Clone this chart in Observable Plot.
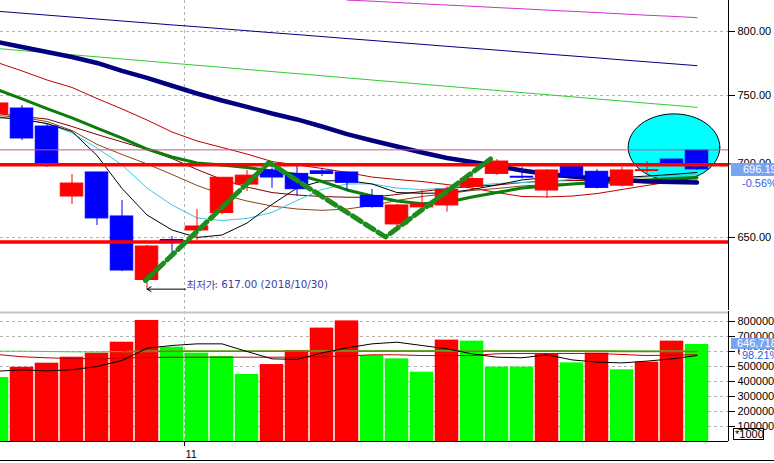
<!DOCTYPE html>
<html><head><meta charset="utf-8">
<script src="https://cdn.jsdelivr.net/npm/d3@7"></script>
<script src="https://cdn.jsdelivr.net/npm/@observablehq/plot@0.6"></script>
<style>
body{margin:0;background:#fff;font-family:"Liberation Sans",Arial,sans-serif;}
#wrap{position:relative;width:774px;height:463px;overflow:hidden;background:#fff;}
#price,#vol{position:absolute;left:0;}
#price{top:0;}
#vol{top:311px;}
.abs{position:absolute;white-space:nowrap;line-height:1;}
</style></head><body>
<div id="wrap">
<div id="price"></div>
<div id="vol"></div>
<div class="abs" style="left:731px;top:163px;width:43px;height:13px;background:#78a4f4;color:#fff;font-size:11px;padding-left:12px;box-sizing:border-box;line-height:13px;overflow:hidden;">696.19</div>
<div class="abs" style="left:742px;top:178px;color:#2f5fd8;font-size:11px;">-0.56%</div>
<div class="abs" style="left:731px;top:338px;width:43px;height:11px;background:#78a4f4;color:#fff;font-size:11px;padding-left:6px;box-sizing:border-box;line-height:11px;overflow:hidden;">646,718</div>
<div class="abs" style="left:740px;top:350px;width:34px;height:11px;background:#fff;color:#2f5fd8;font-size:11px;line-height:11px;padding-left:2px;overflow:hidden;">98.21%</div>
<div class="abs" style="left:733px;top:428px;width:28px;height:10px;border:1px solid #000;font-size:11px;line-height:10px;padding-left:1px;">*1000</div>
<div class="abs" style="left:0;top:460px;width:774px;height:1px;background:#000;"></div>
</div>
<script>
// ---- data (slot 0 = partially visible candle at the left edge) ----
const open  = [736.0,740.2,726.9,677.4,694.0,663.9,622.7,648.3,654.6,666.2,685.6,695.4,693.0,694.8,694.0,677.8,658.6,670.0,671.3,684.0,693.0,691.0,681.5,697.8,694.5,684.8,695.0,703.1,709.6];
const high  = [745.0,742.5,728.8,692.6,694.0,674.7,644.8,650.6,668.6,690.3,695.4,696.8,698.2,696.5,694.5,682.2,672.0,681.5,684.0,691.8,703.1,697.6,696.0,698.9,696.0,697.6,701.7,703.5,710.0];
const low   = [735.0,716.7,697.5,672.0,657.9,628.0,617.0,638.9,648.0,665.0,680.8,683.0,677.4,691.2,681.5,669.5,655.7,669.5,666.8,681.5,692.0,689.5,676.3,689.5,682.5,684.0,693.0,698.0,695.5];
const close = [744.0,718.2,700.3,686.3,662.6,628.7,644.1,647.5,657.2,690.3,691.8,690.5,682.4,693.0,686.8,670.2,671.3,672.4,682.0,689.4,701.7,690.4,695.4,691.2,683.3,695.4,695.6,700.1,696.19];

const volume = [427000,495000,522000,562000,589000,662000,807000,629000,589000,567000,447000,513000,607000,756000,804000,573000,551000,462000,676000,669000,496000,496000,580000,524000,589000,478000,529000,669000,646718];
const volUp  = [0,1,1,1,1,1,1,0,0,0,0,1,1,1,1,0,0,0,1,0,0,0,1,0,1,0,1,1,0];

const volMaBlack = [469000,477000,471000,478000,500000,540000,622000,640000,651000,651000,600000,551000,547000,591000,624000,651000,662000,640000,618000,584000,562000,558000,578000,544000,529000,524000,536000,551000,573000];
const volMaRed   = [580000,565000,558000,553000,551000,556000,560000,562000,562000,562000,562000,562000,562000,565000,570000,578000,578000,573000,573000,573000,585000,587000,587000,587000,587000,580000,573000,576000,578000];
const volMaGreen = [602000,602000,600000,598000,597000,600000,603000,604000,604000,604000,604000,604000,604000,605000,605000,606000,607000,607000,607000,607000,607000,607000,607000,606000,606000,605000,604000,604000,603000];
const volMaOlive = [NaN,NaN,NaN,NaN,NaN,599000,600000,601000,601000,601000,601000,601000,601000,601000,602000,602000,602000,602000,602000,602000,602000,602000,602000,601000,601000,600000,600000,600000,600000];

const maBlack    = [733.6,732.1,729.1,723.3,706.0,682.9,664.9,654.9,650.0,651.6,659.5,672.0,683.2,688.1,688.4,686.0,680.1,679.6,679.8,682.2,685.3,688.8,690.5,691.2,690.8,690.5,691.5,692.6,694.0];
const maCyan     = [733.9,732.4,729.1,722.2,711.3,699.3,683.2,671.6,662.9,661.2,662.6,666.6,674.7,682.2,686.0,686.1,683.2,682.1,683.2,685.0,686.3,687.0,687.7,689.3,689.6,689.8,690.8,691.9,692.6];
const maBrown    = [735.0,733.6,730.6,724.0,713.9,706.7,700.0,692.6,685.0,678.8,674.3,670.9,668.9,668.0,668.9,671.3,674.7,677.4,679.4,681.5,682.9,684.6,685.6,686.3,686.7,687.0,687.4,687.7,688.1];
const maMaroon   = [736.5,734.3,732.4,726.9,721.1,715.7,710.3,703.8,696.1,689.1,683.9,680.1,678.4,677.4,676.9,676.9,678.8,680.8,682.9,684.3,685.3,687.0,688.1,688.4,688.4,688.4,688.8,689.1,689.5];
const maGreen    = [754.6,747.4,740.2,733.2,725.8,718.5,710.6,704.9,700.7,699.3,697.5,695.0,692.6,687.7,681.9,677.7,674.3,672.4,673.5,677.1,680.1,683.2,684.6,686.0,687.0,687.7,688.8,689.8,690.5];
const maRed      = [775.4,768.8,761.8,756.1,747.7,739.9,731.7,722.9,716.4,711.7,707.0,701.7,699.3,696.8,694.0,690.8,689.1,687.7,685.6,683.2,680.1,677.4,677.1,677.7,679.4,682.2,685.0,687.7,690.5];
const maNavy     = [791.7,787.6,783.6,779.7,775.0,768.9,763.4,757.4,751.5,746.2,741.4,736.5,732.1,726.9,721.4,716.7,712.4,708.1,704.2,701.4,698.5,695.4,692.9,691.2,689.8,688.8,687.7,687.4,687.0];
const maLime     = [786.4,784.7,783.1,781.4,779.8,778.1,776.5,774.8,773.2,771.6,769.9,768.3,766.7,765.1,763.4,761.8,760.2,758.6,757.0,755.4,753.8,752.2,750.6,749.0,747.4,745.8,744.2,742.7,741.1];
const maBlueThin = [816.5,814.9,813.3,811.7,810.1,808.5,806.9,805.3,803.8,802.2,800.6,799.0,797.5,795.9,794.3,792.8,791.2,789.7,788.1,786.6,785.1,783.5,782.0,780.5,779.0,777.4,775.9,774.4,772.9];
const maMagenta  = [NaN,NaN,NaN,NaN,NaN,NaN,NaN,NaN,NaN,NaN,NaN,NaN,NaN,NaN,825.7,824.8,823.7,822.6,821.6,820.6,819.5,818.5,817.4,816.4,815.4,814.3,813.2,812.3,811.2];

const levelsRed = [699.5, 647.0];
const levelPink = [710.0];
const zigSlot  = [5.94, 10.88, 15.54, 19.74];
const zigPrice = [622.4, 701.0, 650.3, 703.5];

const priceTicks = [650, 700, 750, 800];
const volTicks = [100000,200000,300000,400000,500000,600000,700000,800000];
const monthSlot = 7.5, monthLabel = "11";
const lowSlot = 6, lowPrice = 617.0, lowLabelSlot = 7.54;
const lowLabelKo = "최저가", lowLabelRest = ": 617.00 (2018/10/30)";
const ellipseC = {slot: 27.08, price: 711.9}, ellipseRx = 1.832, ellipseRyLog = 0.0336;

// ---- layout ----
const W = 774, MR = 46;
const xDomain = [0.14, 29.26];
const slots = d3.range(open.length);
const RED = "#ff0000", BLUE = "#0000ff";

const candles = slots.map(i => ({i, o: open[i], h: high[i], l: low[i], c: close[i], col: close[i] >= open[i] ? RED : BLUE}));
const vols = slots.map(i => ({i, v: volume[i], col: volUp[i] ? RED : "#00ff00"}));
const series = arr => slots.map(i => ({i, v: arr[i]}));
const ellipse = d3.range(0, 73).map(k => {
  const t = k / 72 * 2 * Math.PI;
  return {x: ellipseC.slot + ellipseRx * Math.cos(t), y: ellipseC.price * Math.exp(-ellipseRyLog * Math.sin(t))};
});
const zig = zigSlot.map((s, k) => ({x: s, y: zigPrice[k]}));

const dashGrid = {stroke: "#b4b4b4", strokeDasharray: "3,3"};
const ln = (arr, stroke, w = 1) => Plot.line(series(arr), {x: "i", y: "v", stroke, strokeWidth: w, clip: true, defined: d => !isNaN(d.v)});

const pricePlot = Plot.plot({
  width: W, height: 311, marginLeft: 0, marginRight: MR, marginTop: 0, marginBottom: 1,
  style: {fontSize: "11px", fontFamily: "Liberation Sans, Arial, sans-serif", background: "transparent", color: "#000"},
  x: {domain: xDomain, axis: null},
  y: {type: "log", domain: [603.86, 825.37], axis: "right", ticks: priceTicks, tickFormat: d => d.toFixed(2), tickSize: 6, tickPadding: 3, label: null},
  color: {type: "identity"},
  marks: [
    Plot.ruleY(priceTicks, dashGrid),
    Plot.ruleX([monthSlot], dashGrid),
    Plot.line(ellipse, {x: "x", y: "y", fill: "#00ffff", stroke: "#000", strokeWidth: 1, curve: "linear-closed"}),
    ln(maMagenta, "#cc33cc"),
    ln(maBlueThin, "#000080"),
    ln(maLime, "#33cc33"),
    ln(maRed, "#c00000"),
    ln(maBrown, "#8b4513"),
    ln(maMaroon, "#800000"),
    ln(maCyan, "#3cc8e0"),
    ln(maBlack, "#000000"),
    ln(maGreen, "#0b7d0b", 3),
    ln(maNavy, "#000080", 4.5),
    Plot.ruleX(candles, {x: "i", y1: "l", y2: "h", stroke: "col"}),
    Plot.rect(candles, {x1: d => d.i - 0.45, x2: d => d.i + 0.45, y1: "o", y2: "c", fill: "col", stroke: "col", strokeWidth: 1}),
    Plot.ruleY(levelPink, {stroke: "#d0508a", strokeWidth: 1}),
    Plot.ruleY(levelsRed, {stroke: RED, strokeWidth: 3.5}),
    Plot.line(zig, {x: "x", y: "y", stroke: "#1c8c1c", strokeWidth: 5, strokeDasharray: "10,5"}),
    Plot.arrow([{x1: lowLabelSlot, x2: lowSlot, y: lowPrice}], {x1: "x1", x2: "x2", y1: "y", y2: "y", stroke: "#000", strokeWidth: 1, headLength: 7, bend: 0}),
    Plot.text([lowLabelKo], {x: lowLabelSlot, y: 619.5, text: d => d, textAnchor: "start", fill: "#3c3ca8", fontSize: 10.5, fontFamily: "Noto Sans CJK KR, sans-serif", dx: 1}),
    Plot.text([lowLabelRest], {x: lowLabelSlot, y: 619.5, text: d => d, textAnchor: "start", fill: "#3c3ca8", fontSize: 10.3, fontFamily: "DejaVu Sans, sans-serif", dx: 29}),
    Plot.ruleX([xDomain[1]], {stroke: "#000"})
  ]
});
document.getElementById("price").appendChild(pricePlot);

const volPlot = Plot.plot({
  width: W, height: 152, marginLeft: 0, marginRight: MR, marginTop: 0, marginBottom: 22,
  style: {fontSize: "11px", fontFamily: "Liberation Sans, Arial, sans-serif", background: "transparent", color: "#000"},
  x: {domain: xDomain, axis: "bottom", ticks: [monthSlot], tickFormat: () => "", tickSize: 5, label: null},
  y: {domain: [0, 866667], axis: "right", ticks: volTicks, tickFormat: d => String(d), tickSize: 6, tickPadding: 3, label: null},
  color: {type: "identity"},
  marks: [
    Plot.ruleY(volTicks, dashGrid),
    Plot.ruleX([monthSlot], dashGrid),
    Plot.rect(vols, {x1: d => d.i - 0.47, x2: d => d.i + 0.47, y1: 0, y2: "v", fill: "col"}),
    Plot.line(series(volMaGreen), {x: "i", y: "v", stroke: "#40d040", strokeWidth: 1, clip: true}),
    Plot.line(series(volMaOlive), {x: "i", y: "v", stroke: "#8a7a00", strokeWidth: 1.5, clip: true, defined: d => !isNaN(d.v)}),
    Plot.line(series(volMaRed), {x: "i", y: "v", stroke: "#c00000", strokeWidth: 1, clip: true}),
    Plot.line(series(volMaBlack), {x: "i", y: "v", stroke: "#000", strokeWidth: 1, clip: true}),
    Plot.ruleY([866667], {stroke: "#c4c4c4", strokeWidth: 2, dy: 1}),
    Plot.ruleY([0], {stroke: "#000"}),
    Plot.ruleX([xDomain[1]], {stroke: "#000"}),
    Plot.text([monthLabel], {x: monthSlot, y: 0, text: d => d, textAnchor: "start", dx: 1, dy: 13, fontSize: 11})
  ]
});
document.getElementById("vol").appendChild(volPlot);
</script>
</body></html>
